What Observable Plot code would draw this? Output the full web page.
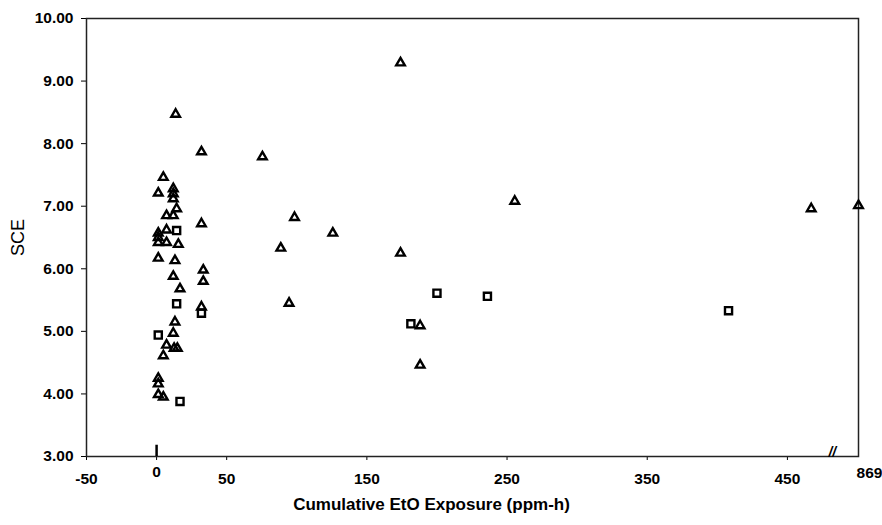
<!DOCTYPE html>
<html>
<head>
<meta charset="utf-8">
<script src="https://cdn.jsdelivr.net/npm/d3@7"></script>
<script src="https://cdn.jsdelivr.net/npm/@observablehq/plot@0.6"></script>
<style>
  html, body { margin: 0; padding: 0; background: #fff; }
  #chart { width: 882px; height: 525px; }
</style>
</head>
<body>
<div id="chart"></div>
<script>
// Triangles (series 1)
const triX = [1.2, 4.8, 11.9, 11.9, 11.9, 14.3, 7.1, 11.9, 32, 1.2, 7.1, 1.2, 1.2, 7.1, 15.5,
              1.2, 13.1, 33.3, 11.9, 33.3, 16.7, 32, 13.1, 11.9, 7.1, 12.5, 14.8, 4.8, 1.2, 1.2,
              1.2, 4.8, 13.6, 32, 75.5, 174, 255.5, 98.4, 125.7, 88.6, 174, 94.5, 188, 188, 467, 869];
const triY = [7.21, 7.46, 7.28, 7.20, 7.12, 6.96, 6.85, 6.85, 6.72, 6.57, 6.62, 6.50, 6.42, 6.42, 6.39,
              6.17, 6.13, 5.98, 5.88, 5.80, 5.68, 5.39, 5.15, 4.97, 4.78, 4.73, 4.73, 4.61, 4.25, 4.16,
              3.99, 3.95, 8.47, 7.87, 7.79, 9.29, 7.08, 6.82, 6.57, 6.33, 6.25, 5.45, 5.09, 4.46, 6.96, 7.01];
// Squares (series 2)
const sqX = [14.3, 14.3, 32, 1.2, 16.7, 200, 236, 181.4, 408];
const sqY = [6.61, 5.44, 5.29, 4.94, 3.88, 5.61, 5.56, 5.12, 5.33];

// Axis ticks and labels
const xTicks = [-50, 0, 50, 150, 250, 350, 450];
const yTicks = [3, 4, 5, 6, 7, 8, 9, 10];
const xBreakDomain = [-50, 500, 869];
const breakValue = [482];
const outlierLabel = ["869"];
const zeroLabel = ["0"];
const xTitle = "Cumulative EtO Exposure (ppm-h)";
const yTitle = "SCE";

const triangles = triX.map((x, i) => ({x, y: triY[i]}));
const squares = sqX.map((x, i) => ({x, y: sqY[i]}));

const chart = Plot.plot({
  width: 882,
  height: 525,
  marginLeft: 86,
  marginRight: 24,
  marginTop: 18,
  marginBottom: 69,
  style: {fontFamily: "'Liberation Sans', Arial, sans-serif", fontSize: "15.5px", fontWeight: "bold", color: "#000", background: "#fff"},
  x: {type: "linear", domain: xBreakDomain, range: [86, 857, 858], ticks: xTicks,
      tickFormat: d => d === 0 ? "" : String(d), tickSize: 4, tickPadding: 12, label: null},
  y: {domain: [3, 10], ticks: yTicks, tickFormat: d3.format(".2f"), tickSize: 5, tickPadding: 8, label: null},
  marks: [
    Plot.frame({stroke: "#222", strokeWidth: 1.5}),
    Plot.ruleX([0], {y1: 3, y2: 3.18, stroke: "#000", strokeWidth: 2.5}),
    Plot.text(zeroLabel, {x: [0], y: [3], text: d => d, dy: 16, fontSize: 15.5}),
    Plot.text(outlierLabel, {x: [869], y: [3], text: d => d, dx: 11, dy: 17, fontSize: 15.5}),
    Plot.text(["//"], {x: breakValue, y: [3], text: d => d, dy: -4, fontSize: 14, fontStyle: "italic"}),
    Plot.dot(triangles, {x: "x", y: "y", symbol: "triangle", r: 3.2, stroke: "#000", strokeWidth: 2.4, fill: "none"}),
    Plot.dot(squares, {x: "x", y: "y", symbol: "square", r: 4, stroke: "#000", strokeWidth: 2.4, fill: "none"}),
    Plot.text([xTitle], {frameAnchor: "bottom", dx: -41, dy: 53, text: d => d, fontSize: 17}),
    Plot.text([yTitle], {frameAnchor: "left", textAnchor: "middle", dx: -68, rotate: -90, text: d => d, fontSize: 18, fontWeight: "normal"})
  ]
});
document.getElementById("chart").appendChild(chart);
</script>
</body>
</html>
